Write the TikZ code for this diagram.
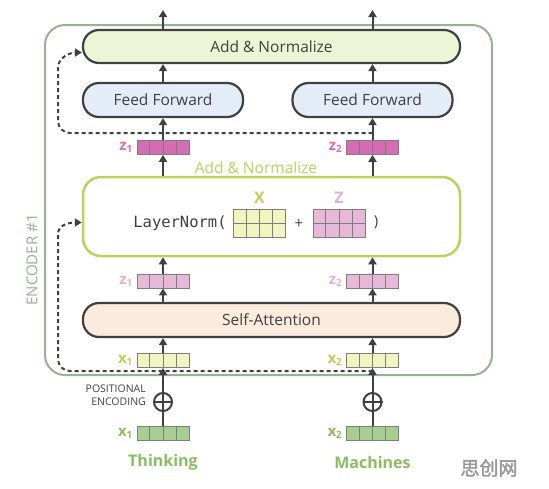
\documentclass[tikz,border=0pt]{standalone}
\usepackage{fontspec}
\setmainfont{Open Sans}
\setmonofont{DejaVu Sans Mono}
\newfontfamily\cjk{Noto Sans CJK SC}[FakeBold=2]
\usepackage{tikz}
\usetikzlibrary{arrows.meta,calc,positioning}

\definecolor{darkline}{RGB}{64,64,64}
\definecolor{addfill}{RGB}{238,245,214}
\definecolor{fffill}{RGB}{228,236,247}
\definecolor{safill}{RGB}{251,235,220}
\definecolor{normgreen}{RGB}{184,210,90}
\definecolor{encgreen}{RGB}{150,178,145}
\definecolor{cellgray}{RGB}{125,125,125}
\definecolor{zdark}{RGB}{214,108,178}
\definecolor{zlight}{RGB}{232,184,216}
\definecolor{zlbl}{RGB}{226,176,208}
\definecolor{xlight}{RGB}{240,246,192}
\definecolor{xlbl}{RGB}{196,204,88}
\definecolor{xgreen}{RGB}{166,206,142}
\definecolor{wordgreen}{RGB}{136,190,96}

% one word vector: name, x, y, fill
\newcommand{\vect}[4]{%
  \node[vecbox,fill=#4] (#1) at (#2,#3) {};
  \foreach \k in {1,2,3}
    \draw[cell] ($(#1.south west)!\k/4!(#1.south east)$) -- ($(#1.north west)!\k/4!(#1.north east)$);
}
% two word vectors stacked
\newcommand{\grid}[4]{%
  \node[vecbox,fill=#4,minimum height=28pt] (#1) at (#2,#3) {};
  \foreach \k in {1,2,3}
    \draw[cell] ($(#1.south west)!\k/4!(#1.south east)$) -- ($(#1.north west)!\k/4!(#1.north east)$);
  \draw[cell] (#1.west) -- (#1.east);
}
% vector label with its index
\newcommand{\vlab}[2]{#1\raisebox{-2pt}{\fontsize{10}{10}\selectfont #2}}

\begin{document}
\begin{tikzpicture}[x=1pt,y=-1pt,
    box/.style={draw=darkline,line width=2.2pt,rounded corners=16pt,
      font=\fontsize{15.5}{17}\selectfont,text=darkline,inner sep=0pt},
    normbox/.style={draw=normgreen,line width=2.5pt,rounded corners=18pt,fill=white},
    vecbox/.style={draw=cellgray,line width=0.8pt,minimum width=52pt,minimum height=14pt,inner sep=0pt},
    cell/.style={draw=cellgray,line width=0.8pt},
    arr/.style={draw=darkline,line width=2pt,-{Triangle[length=7pt,width=8pt]}},
    resid/.style={draw=darkline,line width=2pt,dash pattern=on 4pt off 3pt,
      -{Triangle[length=7pt,width=8pt]}},
    lbl/.style={font=\bfseries\fontsize{15}{16}\selectfont,inner sep=0pt},
    oplus/.style={circle,draw=darkline,line width=2pt,minimum size=18pt,inner sep=0pt}]
  \useasboundingbox (0,0) rectangle (549,488);

  \draw[encgreen,line width=2pt,rounded corners=20pt] (45,25) rectangle (492,375);
  \node[rotate=90,text=encgreen,font=\fontsize{15}{16}\selectfont] (enc) at (32,260) {ENCODER \#1};

  \node[box,fill=addfill,minimum width=377pt,minimum height=33pt] (top) at (271.5,46.5) {Add \& Normalize};
  \node[box,fill=fffill,minimum width=160pt,minimum height=34pt] (ff1) at (163,100) {Feed Forward};
  \node[box,fill=fffill,minimum width=160pt,minimum height=34pt] (ff2) at (372.5,100) {Feed Forward};

  \vect{z1t}{163}{147.5}{zdark}
  \vect{z2t}{372.5}{147.5}{zdark}
  \node[lbl,text=zdark,left=4pt of z1t] (z1tl) {\vlab{z}{1}};
  \node[lbl,text=zdark,left=4pt of z2t] (z2tl) {\vlab{z}{2}};

  \node[text=normgreen,font=\fontsize{15.5}{17}\selectfont,inner sep=0pt] (normlbl) at (256,168) {Add \& Normalize};
  \node[normbox,minimum width=377pt,minimum height=79pt] (norm) at (271.5,216.5) {};
  \node[font=\ttfamily\fontsize{15.5}{17}\selectfont,text=darkline,inner sep=0pt] (ln) at (180,223) {LayerNorm(};
  \grid{xm}{259.5}{223}{xlight}
  \node[lbl,text=xlbl,font=\bfseries\fontsize{16}{17}\selectfont] (xml) at (259.5,198) {X};
  \node[text=darkline,font=\fontsize{15}{16}\selectfont] (plus) at (299,224) {+};
  \grid{zm}{339}{223}{zlight}
  \node[lbl,text=zlbl,font=\bfseries\fontsize{16}{17}\selectfont] (zml) at (339,198) {Z};
  \node[text=darkline,font=\fontsize{15}{16}\selectfont] (rp) at (376,222) {)};

  \vect{z1l}{163}{281}{zlight}
  \vect{z2l}{372.5}{281}{zlight}
  \node[lbl,text=zlbl,left=4pt of z1l] (z1ll) {\vlab{z}{1}};
  \node[lbl,text=zlbl,left=4pt of z2l] (z2ll) {\vlab{z}{2}};

  \node[box,fill=safill,minimum width=377pt,minimum height=34pt] (sa) at (271.5,320) {Self-Attention};

  \vect{x1l}{163}{360.5}{xlight}
  \vect{x2l}{372.5}{360.5}{xlight}
  \node[lbl,text=xlbl,left=4pt of x1l] (x1ll) {\vlab{x}{1}};
  \node[lbl,text=xlbl,left=4pt of x2l] (x2ll) {\vlab{x}{2}};

  \node[oplus] (p1) at (163,402) {};
  \node[oplus] (p2) at (372.5,402) {};
  \draw[darkline,line width=2pt] (p1.north) -- (p1.south) (p1.west) -- (p1.east);
  \draw[darkline,line width=2pt] (p2.north) -- (p2.south) (p2.west) -- (p2.east);
  \node[anchor=east,align=right,text=darkline,inner sep=0pt,
    font=\fontsize{10.5}{12.5}\selectfont] (pe) at (146,395) {POSITIONAL\\ENCODING};

  \vect{x1}{163}{433.5}{xgreen}
  \vect{x2}{372.5}{433.5}{xgreen}
  \node[lbl,text=wordgreen,left=4pt of x1] (x1lb) {\vlab{x}{1}};
  \node[lbl,text=wordgreen,left=4pt of x2] (x2lb) {\vlab{x}{2}};

  \node[text=wordgreen,font=\bfseries\fontsize{16}{18}\selectfont] (w1) at (163,462) {Thinking};
  \node[text=wordgreen,font=\bfseries\fontsize{16}{18}\selectfont] (w2) at (372.5,462) {Machines};
  \node[text=black!40,font=\cjk\fontsize{19}{20}\selectfont] (wm) at (489,468) {思创网};

  \coordinate (o1) at (163,10);
  \coordinate (o2) at (372.5,10);
  \coordinate (r1) at (372.5,133);
  \coordinate (r2) at (372.5,371);

  \draw[arr] (top.north -| o1) -- (o1);
  \draw[arr] (top.north -| o2) -- (o2);
  \draw[arr] (ff1.north) -- (ff1.north |- top.south);
  \draw[arr] (ff2.north) -- (ff2.north |- top.south);
  \draw[arr] (z1t.north) -- (ff1.south);
  \draw[arr] (z2t.north) -- (ff2.south);
  \draw[arr] (z1t.south |- norm.north) -- (z1t.south);
  \draw[arr] (z2t.south |- norm.north) -- (z2t.south);
  \draw[arr] (z1l.north) -- (z1l.north |- norm.south);
  \draw[arr] (z2l.north) -- (z2l.north |- norm.south);
  \draw[arr] (z1l.south |- sa.north) -- (z1l.south);
  \draw[arr] (z2l.south |- sa.north) -- (z2l.south);
  \draw[arr] (x1l.north) -- (x1l.north |- sa.south);
  \draw[arr] (x2l.north) -- (x2l.north |- sa.south);
  \draw[arr] (p1.north) -- (x1l.south);
  \draw[arr] (p2.north) -- (x2l.south);
  \draw[darkline,line width=2pt] (x1.north) -- (p1.south);
  \draw[darkline,line width=2pt] (x2.north) -- (p2.south);

  \draw[resid] (r1) -- (70,133) to[out=180,in=-90] (58,121) -- (58,68)
    to[out=90,in=180] ([yshift=-6pt]top.west);
  \draw[resid] (r2) -- (70,371) to[out=180,in=-90] (58,359) -- (58,234)
    to[out=90,in=180] ([yshift=-6pt]norm.west);
\end{tikzpicture}
\end{document}
